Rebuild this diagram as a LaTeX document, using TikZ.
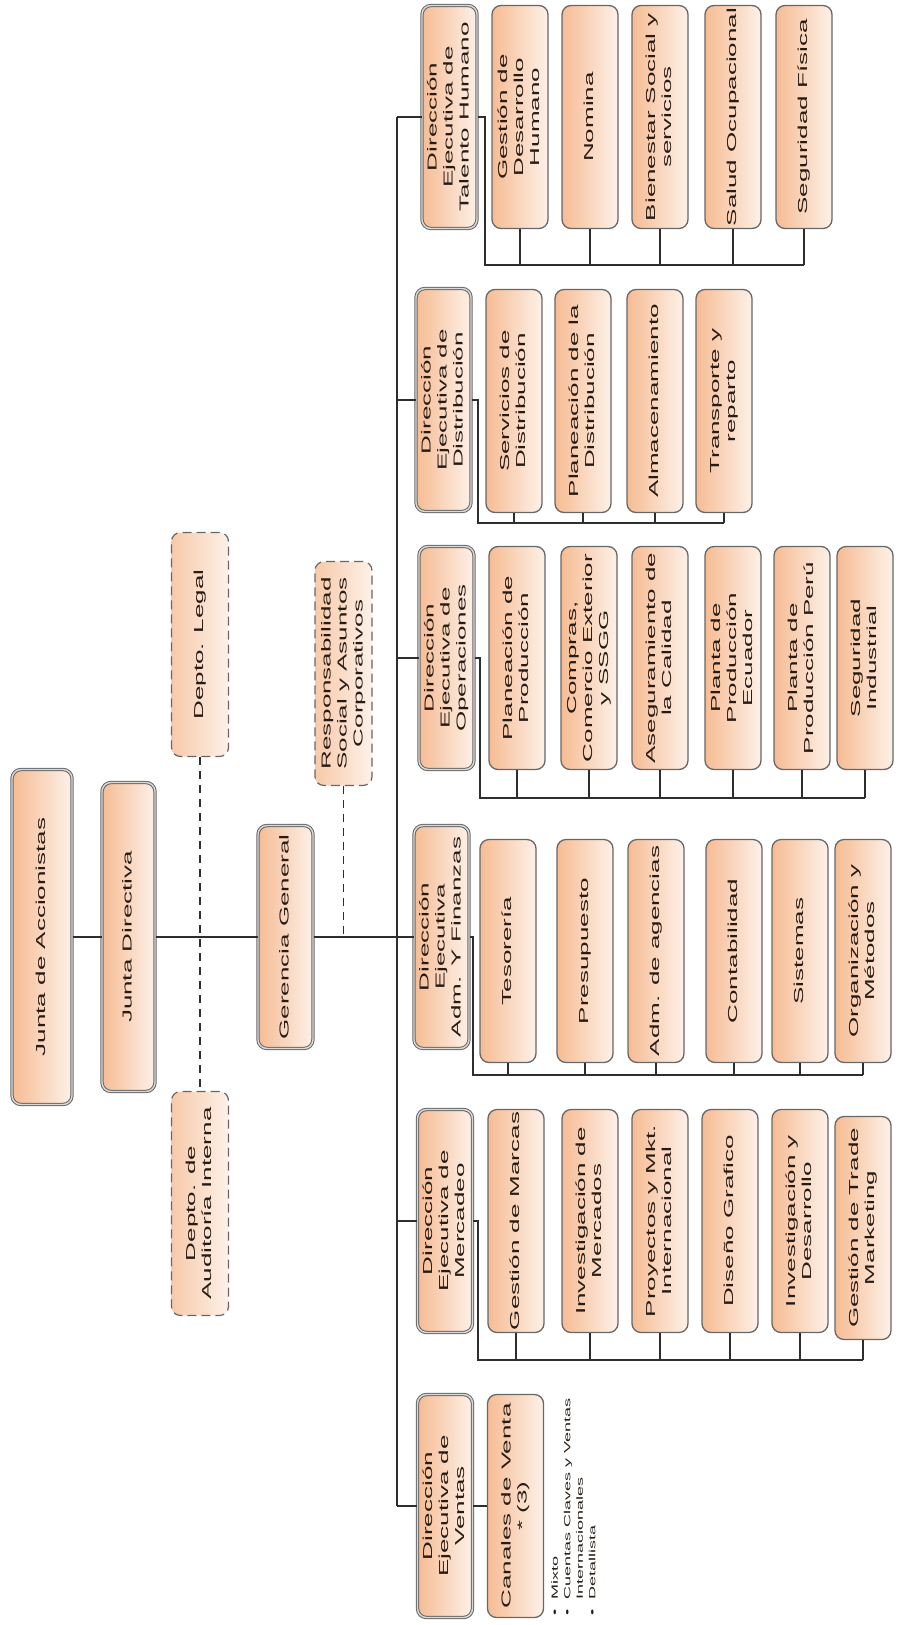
\documentclass[tikz,border=0pt]{standalone}
\usepackage{tikz}
\usepackage{amsmath}
\usepackage{amssymb}
\usepackage{xcolor}
\usepackage{graphicx}
\usepackage{fontspec}
\newfontfamily\orgfont{Liberation Sans}[FakeStretch=2.0]
\definecolor{boxdark}{HTML}{F6BC94}
\definecolor{boxlight}{HTML}{FDF1E8}
\definecolor{boxline}{HTML}{676767}
\definecolor{boxtext}{HTML}{261C15}
\definecolor{linkline}{HTML}{2E2E2E}
\newcommand{\vtext}[1]{\rotatebox{90}{\begin{tabular}{@{}c@{}}#1\end{tabular}}}
\newcommand{\vlist}[1]{\rotatebox{90}{\begin{tabular}{@{}l@{}}#1\end{tabular}}}

\begin{document}
\begin{tikzpicture}[x=1pt,y=-1pt,
		unit/.style={rectangle,rounded corners=9pt,inner sep=0pt,
			left color=boxdark,right color=boxlight,text=boxtext,
			font=\orgfont\fontsize{13}{16}\selectfont},
		mainbox/.style={unit,draw=boxline,line width=1pt,double=gray!30,double distance=1.4pt},
		dirbox/.style={mainbox,minimum height=223pt,minimum width=55pt},
		subbox/.style={unit,draw=boxline,line width=1.3pt,minimum height=223pt,minimum width=56pt},
		staffbox/.style={unit,draw=boxline,line width=1.2pt,dash pattern=on 9pt off 5pt,
			left color=boxdark!80!white,minimum height=224pt,minimum width=57pt},
		listtext/.style={inner sep=0pt,text=boxtext,
			font=\orgfont\fontsize{9}{12.5}\selectfont},
		orgline/.style={draw=linkline,line width=1.1pt},
		staffline/.style={orgline,dash pattern=on 8pt off 6pt}]
            		\useasboundingbox (0,0) rectangle (902,1625);

            		% junta, gerencia and staff
            		\node (ja) at (42,937) [mainbox,minimum height=335pt,minimum width=60pt] {\vtext{Junta de Accionistas}};
            		\node (jd) at (128.5,937) [mainbox,minimum height=309pt,minimum width=53pt] {\vtext{Junta Directiva}};
            		\node (gg) at (285.5,937) [dirbox] {\vtext{Gerencia General}};
            		\node (legal) at (200,644.5) [staffbox] {\vtext{Depto. Legal}};
            		\node (audit) at (200,1203.5) [staffbox] {\vtext{Depto. de\\Auditoría Interna}};
            		\node (rs) at (343.5,673.5) [staffbox] {\vtext{Responsabilidad\\Social y Asuntos\\Corporativos}};

            		% direcciones
            		\node (th) at (449.5,117) [dirbox] {\vtext{Dirección\\Ejecutiva de\\Talento Humano}};
            		\node (di) at (443.5,400) [dirbox] {\vtext{Dirección\\Ejecutiva de\\Distribución}};
            		\node (op) at (446.5,658) [dirbox] {\vtext{Dirección\\Ejecutiva de\\Operaciones}};
            		\node (fi) at (441.5,937) [dirbox] {\vtext{Dirección\\Ejecutiva\\Adm. Y Finanzas}};
            		\node (me) at (445,1221) [dirbox] {\vtext{Dirección\\Ejecutiva de\\Mercadeo}};
            		\node (ve) at (445,1506) [dirbox] {\vtext{Dirección\\Ejecutiva de\\Ventas}};

            		\node (th1) at (520,117) [subbox] {\vtext{Gestión de\\Desarrollo\\Humano}};
            		\node (th2) at (590,117) [subbox] {\vtext{Nomina}};
            		\node (th3) at (660,117) [subbox] {\vtext{Bienestar Social y\\servicios}};
            		\node (th4) at (733,117) [subbox] {\vtext{Salud Ocupacional}};
            		\node (th5) at (804,117) [subbox] {\vtext{Seguridad Física}};

            		\node (di1) at (514,401) [subbox] {\vtext{Servicios de\\Distribución}};
            		\node (di2) at (583,401) [subbox] {\vtext{Planeación de la\\Distribución}};
            		\node (di3) at (655,401) [subbox] {\vtext{Almacenamiento}};
            		\node (di4) at (724,401) [subbox] {\vtext{Transporte y\\reparto}};

            		\node (op1) at (517,658) [subbox] {\vtext{Planeación de\\Producción}};
            		\node (op2) at (589,658) [subbox] {\vtext{Compras,\\Comercio Exterior\\y SSGG}};
            		\node (op3) at (660,658) [subbox] {\vtext{Aseguramiento de\\la Calidad}};
            		\node (op4) at (733,658) [subbox] {\vtext{Planta de\\Producción\\Ecuador}};
            		\node (op5) at (802,658) [subbox] {\vtext{Planta de\\Producción Perú}};
            		\node (op6) at (865,658) [subbox] {\vtext{Seguridad\\Industrial}};

            		\node (fi1) at (508,951) [subbox] {\vtext{Tesorería}};
            		\node (fi2) at (585,951) [subbox] {\vtext{Presupuesto}};
            		\node (fi3) at (656,951) [subbox] {\vtext{Adm. de agencias}};
            		\node (fi4) at (734,951) [subbox] {\vtext{Contabilidad}};
            		\node (fi5) at (800,951) [subbox] {\vtext{Sistemas}};
            		\node (fi6) at (863,951) [subbox] {\vtext{Organización y\\Métodos}};

            		\node (me1) at (516,1221) [subbox] {\vtext{Gestión de Marcas}};
            		\node (me2) at (590,1221) [subbox] {\vtext{Investigación de\\Mercados}};
            		\node (me3) at (660,1221) [subbox] {\vtext{Proyectos y Mkt.\\Internacional}};
            		\node (me4) at (730,1221) [subbox] {\vtext{Diseño Grafico}};
            		\node (me5) at (800,1221) [subbox] {\vtext{Investigación y\\Desarrollo}};
            		\node (me6) at (863,1228) [subbox] {\vtext{Gestión de Trade\\Marketing}};

            		\node (cv) at (515.5,1506) [subbox] {\vtext{Canales de Venta\\{*}~(3)}};
            		\node (cvlist) at (549,1616) [listtext,anchor=south west] {\vlist{\textbullet\ \ Mixto\\\textbullet\ \ Cuentas Claves y Ventas\\\phantom{\textbullet\ \ }Internacionales\\\textbullet\ \ Detallista}};

            		% lineas
            		\draw[orgline] (ja.east) -- (jd.west);
            		\draw[orgline] (jd.east) -- (gg.west);
            		\draw[orgline] (gg.east) -- (fi.west);
            		\draw[staffline] (legal.south) -- (audit.north);
            		\draw[staffline] (rs.south) -- (rs.south |- gg.east);

            		\coordinate (bustop) at (397,117);
            		\coordinate (busbot) at (397,1506);
            		\draw[orgline] (bustop) -- (busbot);
            		\draw[orgline] (th.west) -- (th.west -| bustop);
            		\draw[orgline] (di.west) -- (di.west -| bustop);
            		\draw[orgline] (op.west) -- (op.west -| bustop);
            		\draw[orgline] (me.west) -- (me.west -| bustop);
            		\draw[orgline] (ve.west) -- (ve.west -| bustop);
            		\draw[orgline] (ve.east) -- (cv.west);

            		\coordinate (thbar) at (485,265);
            		\coordinate (dibar) at (478,523);
            		\coordinate (opbar) at (480,798);
            		\coordinate (fibar) at (473,1075);
            		\coordinate (mebar) at (478,1360);

            		\draw[orgline] (th.east) -| (thbar) -- (thbar -| th5.south);
            		\draw[orgline] (th1.south) -- (th1.south |- thbar) (th2.south) -- (th2.south |- thbar) (th3.south) -- (th3.south |- thbar)
            			(th4.south) -- (th4.south |- thbar) (th5.south) -- (th5.south |- thbar);
            		\draw[orgline] (di.east) -| (dibar) -- (dibar -| di4.south);
            		\draw[orgline] (di1.south) -- (di1.south |- dibar) (di2.south) -- (di2.south |- dibar) (di3.south) -- (di3.south |- dibar)
            			(di4.south) -- (di4.south |- dibar);
            		\draw[orgline] (op.east) -| (opbar) -- (opbar -| op6.south);
            		\draw[orgline] (op1.south) -- (op1.south |- opbar) (op2.south) -- (op2.south |- opbar) (op3.south) -- (op3.south |- opbar)
            			(op4.south) -- (op4.south |- opbar) (op5.south) -- (op5.south |- opbar) (op6.south) -- (op6.south |- opbar);
            		\draw[orgline] (fi.east) -| (fibar) -- (fibar -| fi6.south);
            		\draw[orgline] (fi1.south) -- (fi1.south |- fibar) (fi2.south) -- (fi2.south |- fibar) (fi3.south) -- (fi3.south |- fibar)
            			(fi4.south) -- (fi4.south |- fibar) (fi5.south) -- (fi5.south |- fibar) (fi6.south) -- (fi6.south |- fibar);
            		\draw[orgline] (me.east) -| (mebar) -- (mebar -| me6.south);
            		\draw[orgline] (me1.south) -- (me1.south |- mebar) (me2.south) -- (me2.south |- mebar) (me3.south) -- (me3.south |- mebar)
            			(me4.south) -- (me4.south |- mebar) (me5.south) -- (me5.south |- mebar) (me6.south) -- (me6.south |- mebar);

        		\end{tikzpicture}
\end{document}
